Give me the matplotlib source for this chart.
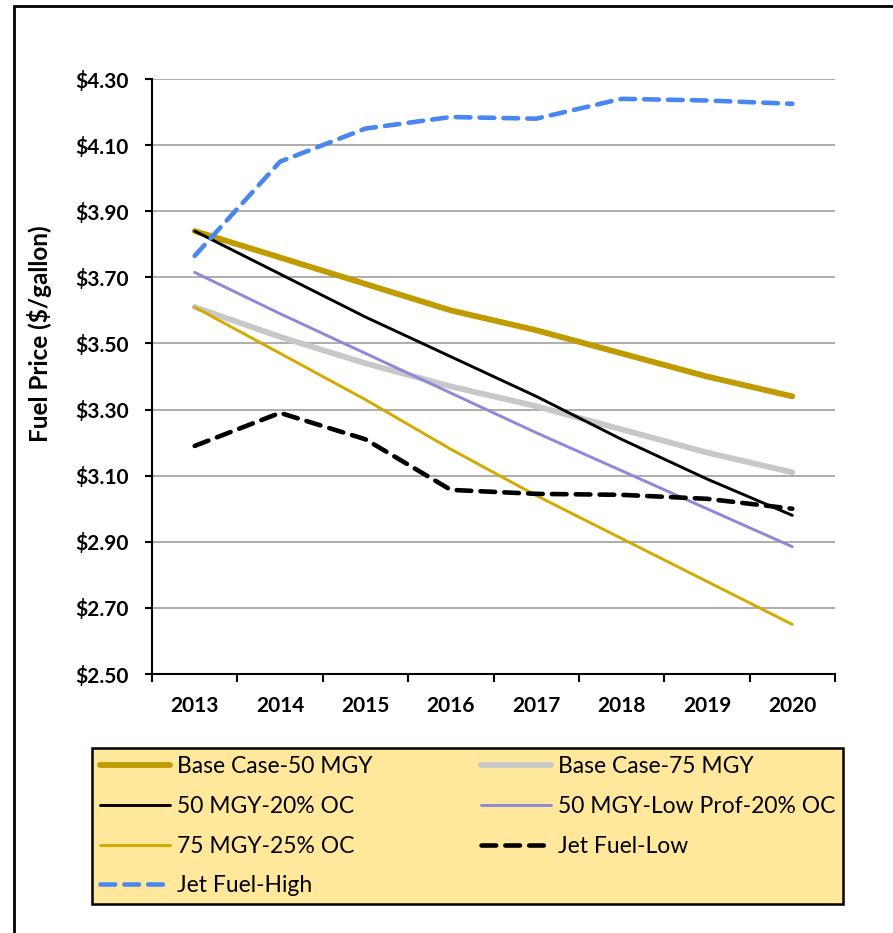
import matplotlib
matplotlib.use("Agg")
import matplotlib.pyplot as plt
import matplotlib.patches as mpatches
from matplotlib.ticker import FixedLocator, FuncFormatter

plt.rcParams['font.family'] = ['Lato', 'DejaVu Sans']

years = ['2013', '2014', '2015', '2016', '2017', '2018', '2019', '2020']

base_50 = [3.84, 3.76, 3.68, 3.60, 3.54, 3.47, 3.40, 3.34]
base_75 = [3.61, 3.52, 3.44, 3.37, 3.31, 3.24, 3.17, 3.11]
mgy50_oc20 = [3.84, 3.71, 3.58, 3.46, 3.34, 3.21, 3.09, 2.98]
mgy50_low = [3.715, 3.59, 3.47, 3.35, 3.23, 3.115, 3.00, 2.885]
mgy75_oc25 = [3.61, 3.47, 3.33, 3.18, 3.04, 2.91, 2.78, 2.65]
jet_low = [3.19, 3.29, 3.21, 3.057, 3.045, 3.042, 3.03, 3.00]
jet_high = [3.765, 4.05, 4.15, 4.185, 4.18, 4.24, 4.235, 4.225]

labels = ['Base Case-50 MGY', 'Base Case-75 MGY', '50 MGY-20% OC',
          '50 MGY-Low Prof-20% OC', '75 MGY-25% OC', 'Jet Fuel-Low', 'Jet Fuel-High']

fig = plt.figure(figsize=(8.93, 9.33), dpi=100)
ax = fig.add_axes([152/893, 1-674/933, 683/893, 595/933])

x = list(range(len(years)))
lines = []
lines += ax.plot(x, base_50, color='#BF9B00', lw=4.2, solid_capstyle='round', label=labels[0])
lines += ax.plot(x, base_75, color='#C8C8C8', lw=4.2, solid_capstyle='round', label=labels[1])
lines += ax.plot(x, mgy50_oc20, color='black', lw=2.1, solid_capstyle='round', label=labels[2])
lines += ax.plot(x, mgy50_low, color='#8A8AD8', lw=2.1, solid_capstyle='round', label=labels[3])
lines += ax.plot(x, mgy75_oc25, color='#D4AA00', lw=2.1, solid_capstyle='round', label=labels[4])
lines += ax.plot(x, jet_low, color='black', lw=3.3, ls=(0, (3.2, 2.0)), dash_capstyle='round', label=labels[5])
lines += ax.plot(x, jet_high, color='#4A86F0', lw=3.3, ls=(0, (3.2, 2.0)), dash_capstyle='round', label=labels[6])

ax.set_xlim(-0.5, len(years) - 0.5)
ax.set_ylim(2.50, 4.30)
yt = [2.50 + 0.2 * i for i in range(10)]
ax.yaxis.set_major_locator(FixedLocator(yt))
ax.yaxis.set_major_formatter(FuncFormatter(lambda v, p: '$%.2f' % v))
ax.grid(axis='y', color='#A0A0A0', lw=1.2)
ax.set_axisbelow(True)

ax.set_xticks(x)
ax.set_xticklabels(years)
ax.set_xticks([i - 0.5 for i in range(len(years) + 1)], minor=True)
ax.tick_params(axis='x', which='major', length=0, pad=16, labelsize=15)
ax.tick_params(axis='x', which='minor', length=6, width=1.5, direction='out')
ax.tick_params(axis='y', which='major', length=5, width=1.5, direction='out', pad=12, labelsize=15)
for t in ax.get_xticklabels() + ax.get_yticklabels():
    t.set_fontweight('bold')

for s in ['top', 'right']:
    ax.spines[s].set_visible(False)
for s in ['left', 'bottom']:
    ax.spines[s].set_linewidth(1.5)

fig.text(40/893, 1-334/933, 'Fuel Price ($/gallon)', rotation=90, ha='center', va='center',
         fontsize=17.5, fontweight='bold')

# column-first ordering so the legend reads row by row like the original
order = [0, 2, 4, 6, 1, 3, 5]
leg = fig.legend([lines[i] for i in order], [labels[i] for i in order],
                 loc='upper left', bbox_to_anchor=(92/893, 1-748/933, 751/893, 0),
                 mode='expand', ncol=2, fontsize=16.5, frameon=True, fancybox=False,
                 handlelength=3.05, handletextpad=0.3, labelspacing=0.82,
                 borderpad=0.35, borderaxespad=0)
frame = leg.get_frame()
frame.set_facecolor('#FFE89C')
frame.set_edgecolor('black')
frame.set_linewidth(1.8)
frame.set_alpha(1)

border = mpatches.Rectangle((14/893, -0.05), 1.2, 1.05 - 6/933, transform=fig.transFigure,
                            fill=False, edgecolor='black', lw=2, clip_on=False)
fig.patches.append(border)

fig.savefig('out.png', dpi=100)
